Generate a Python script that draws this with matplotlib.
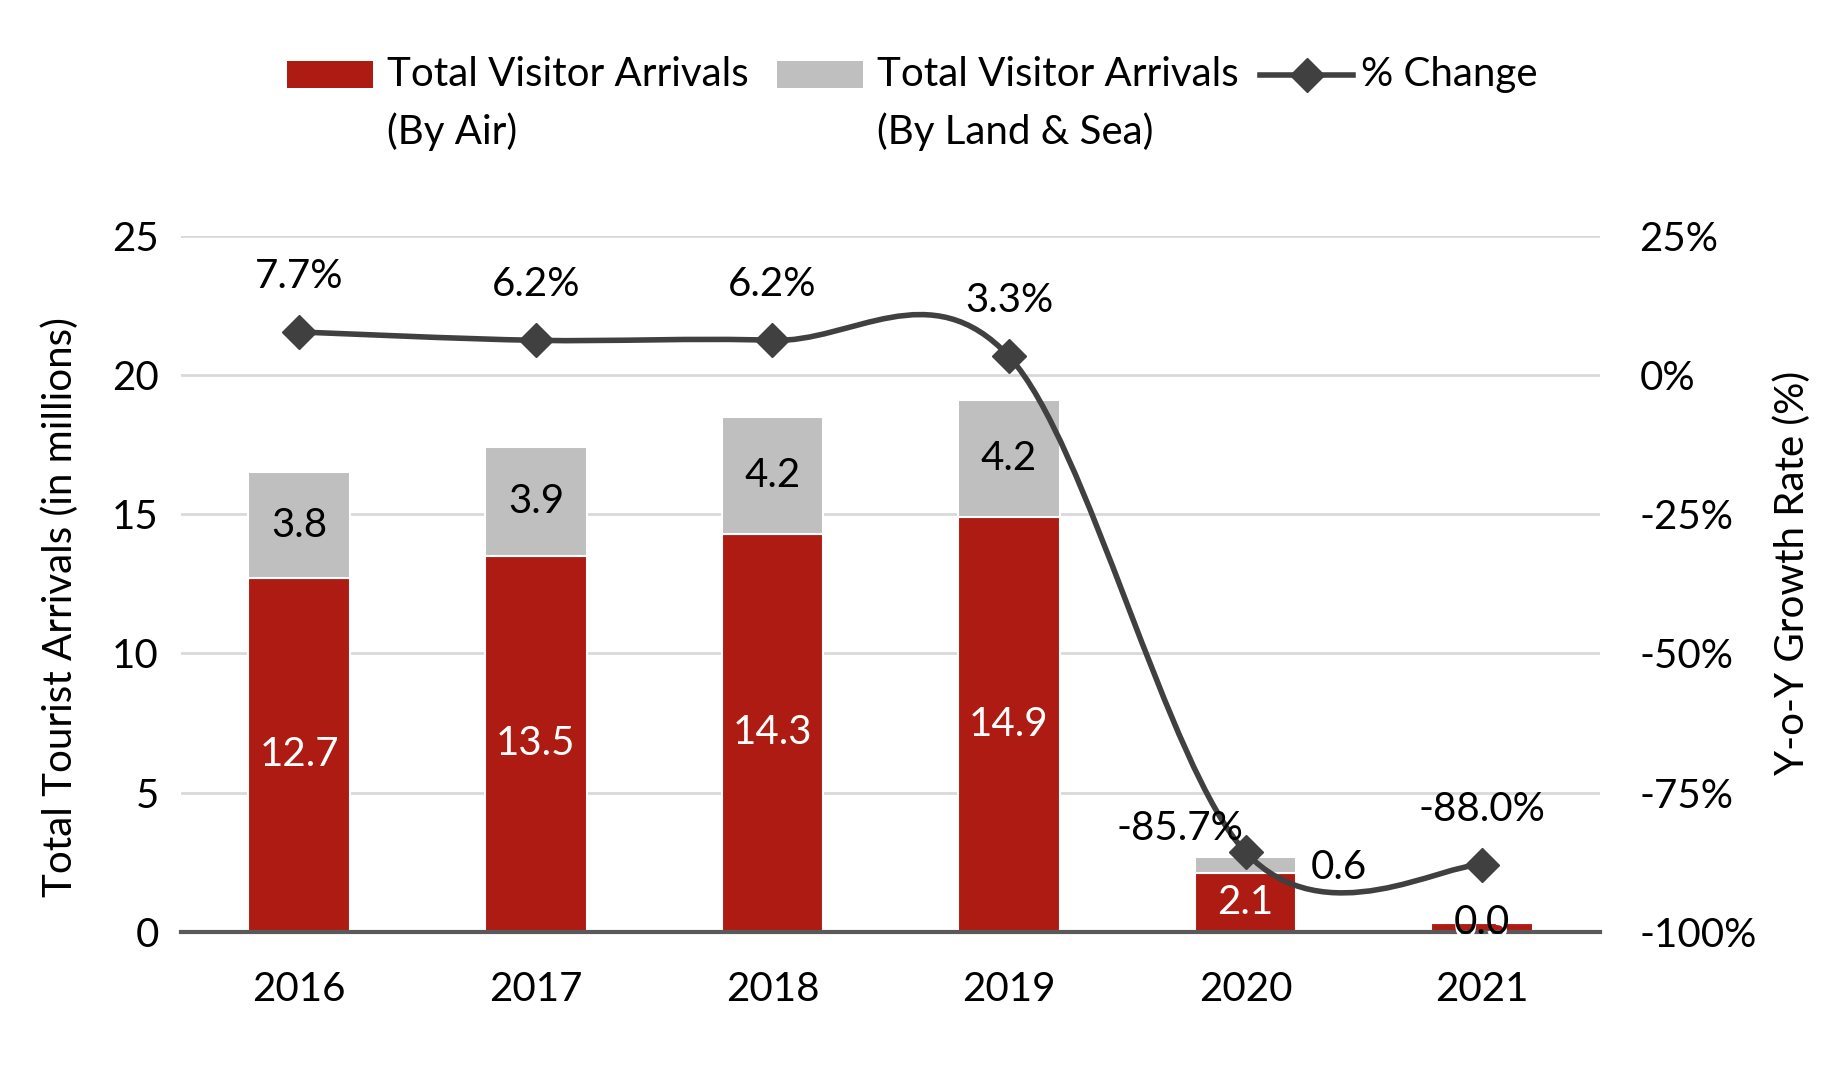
import numpy as np
import matplotlib.pyplot as plt
from matplotlib.path import Path
from matplotlib.patches import PathPatch, Rectangle
from matplotlib.lines import Line2D

plt.rcParams["font.family"] = ["Lato", "DejaVu Sans"]

years = ["2016", "2017", "2018", "2019", "2020", "2021"]
by_air = [12.7, 13.5, 14.3, 14.9, 2.1, 0.3]
by_land_sea = [3.8, 3.9, 4.2, 4.2, 0.6, 0.0]
pct_change = [7.7, 6.2, 6.2, 3.3, -85.7, -88.0]

left_ticks = [0, 5, 10, 15, 20, 25]
right_ticks = [-100, -75, -50, -25, 0, 25]

RED = "#AE1B12"
GREY = "#BFBFBF"
LINE = "#404040"
FS = 29


def smooth_path(xs, ys, k=1.0 / 6):
    """Excel-like smoothed line as a cubic bezier path through the points."""
    pts = np.column_stack([xs, ys]).astype(float)
    n = len(pts)
    verts = [pts[0]]
    codes = [Path.MOVETO]
    for i in range(n - 1):
        p0 = pts[i - 1] if i > 0 else pts[i]
        p1 = pts[i]
        p2 = pts[i + 1]
        p3 = pts[i + 2] if i + 2 < n else pts[i + 1]
        c1 = p1 + (p2 - p0) * k
        c2 = p2 - (p3 - p1) * k
        verts += [c1, c2, p2]
        codes += [Path.CURVE4] * 3
    return Path(verts, codes)


fig = plt.figure(figsize=(18.29, 10.71), dpi=100)
ax = fig.add_axes([0.099, 0.130, 0.776, 0.650])
x = np.arange(len(years))
w = 0.43

ax.bar(x, by_air, w, color=RED, edgecolor="white", linewidth=1.5, zorder=2)
ax.bar(x, by_land_sea, w, bottom=by_air, color=GREY, edgecolor="white",
       linewidth=1.5, zorder=2)

for i in range(len(years)):
    ax.text(x[i], by_air[i] / 2, f"{by_air[i]:.1f}", ha="center", va="center",
            color="white", fontsize=FS, zorder=5)
    if i == 4:
        ax.text(x[i] + w / 2 + 0.06, by_air[i] + by_land_sea[i] / 2 - 0.1,
                f"{by_land_sea[i]:.1f}", ha="left", va="center",
                color="black", fontsize=FS, zorder=5)
    elif i == 5:
        ax.text(x[i], by_air[i] + 0.05, f"{by_land_sea[i]:.1f}", ha="center",
                va="center", color="black", fontsize=FS, zorder=6)
    else:
        ax.text(x[i], by_air[i] + by_land_sea[i] / 2, f"{by_land_sea[i]:.1f}",
                ha="center", va="center", color="black", fontsize=FS, zorder=5)

ax.set_xlim(-0.5, len(years) - 0.5)
ax.set_ylim(0, 25)
ax.set_yticks(left_ticks)
ax.set_yticklabels([str(t) for t in left_ticks])
ax.set_xticks(x)
ax.set_xticklabels(years)
ax.tick_params(axis="y", length=0, pad=16, labelsize=FS)
ax.tick_params(axis="x", length=0, pad=28, labelsize=FS)
ax.grid(axis="y", color="#D9D9D9", linewidth=2, zorder=0)
ax.set_axisbelow(True)
for s in ["top", "right", "left"]:
    ax.spines[s].set_visible(False)
ax.spines["bottom"].set_color("#595959")
ax.spines["bottom"].set_linewidth(3)
ax.spines["bottom"].set_zorder(4)
ax.set_ylabel("Total Tourist Arrivals (in millions)", fontsize=FS)
ax.yaxis.set_label_coords(-0.072, 0.466)

ax2 = ax.twinx()
ax2.set_ylim(-100, 25)
ax2.set_yticks(right_ticks)
ax2.set_yticklabels([f"{t}%" for t in right_ticks])
ax2.tick_params(axis="y", length=0, pad=28, labelsize=FS)
for s in ["top", "right", "left", "bottom"]:
    ax2.spines[s].set_visible(False)
ax2.set_ylabel("Y-o-Y Growth Rate (%)", fontsize=FS)
ax2.yaxis.set_label_coords(1.122, 0.516)

ax2.add_patch(PathPatch(smooth_path(x, pct_change), facecolor="none",
                        edgecolor=LINE, linewidth=4, zorder=3))
ax2.plot(x, pct_change, linestyle="none", marker="D", markersize=17,
         color=LINE, zorder=4)

for i, v in enumerate(pct_change):
    if i == 4:
        ax2.annotate(f"{v:.1f}%", (x[i], v), xytext=(-47, 17),
                     textcoords="offset points", ha="center", va="center",
                     fontsize=FS)
    else:
        ax2.annotate(f"{v:.1f}%", (x[i], v), xytext=(0, 40),
                     textcoords="offset points", ha="center", va="center",
                     fontsize=FS)

# legend drawn by hand so the keys sit on the first text line
legend_labels = [("Total Visitor Arrivals", "(By Air)"),
                 ("Total Visitor Arrivals", "(By Land & Sea)"),
                 ("% Change", None)]
key_x = [0.157, 0.425, 0.689]
key_w = 0.047
line1_y, line2_y = 0.930, 0.877
for i, (l1, l2) in enumerate(legend_labels):
    x0 = key_x[i]
    if i < 2:
        fig.patches.append(Rectangle((x0, 0.918), key_w, 0.025,
                                     transform=fig.transFigure,
                                     facecolor=[RED, GREY][i],
                                     edgecolor="none"))
        tx = x0 + key_w + 0.0075
    else:
        fig.lines.append(Line2D([x0, x0 + 0.051], [line1_y, line1_y],
                                transform=fig.transFigure, color=LINE,
                                linewidth=4))
        fig.lines.append(Line2D([x0 + 0.0255], [line1_y], marker="D",
                                markersize=17, transform=fig.transFigure,
                                color=LINE))
        tx = x0 + 0.055
    fig.text(tx, line1_y, l1, ha="left", va="center", fontsize=FS)
    if l2:
        fig.text(tx, line2_y, l2, ha="left", va="center", fontsize=FS)

fig.savefig("out.png", dpi=100)
